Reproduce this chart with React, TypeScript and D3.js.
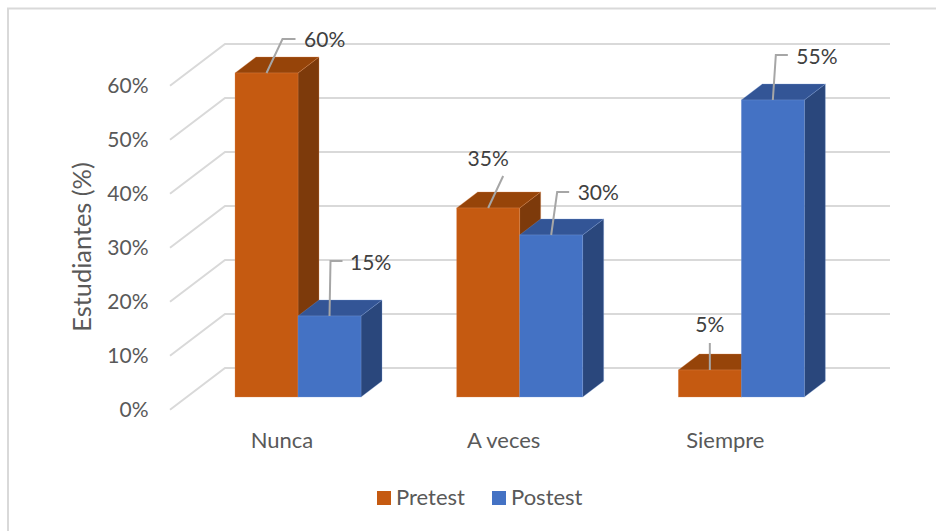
import React from "react";
import * as d3 from "d3";

const categories = ["Nunca", "A veces", "Siempre"];
const seriesNames = ["Pretest", "Postest"];
const pretest = [60, 35, 5];
const postest = [15, 30, 55];
const ticks = [0, 10, 20, 30, 40, 50, 60];

const front = { pretest: "#C55A11", postest: "#4472C4" };
const top = { pretest: "#964409", postest: "#335596" };
const side = { pretest: "#7D3A0B", postest: "#2A477C" };
const edge = { pretest: "#E08A50", postest: "#7C9DD8" };
const textColor = "#595959";
const labelColor = "#404040";
const FONT = "Lato, Carlito, sans-serif";

// leader-line vertex offsets, relative to the centre of the bar's front top edge
const leaders = [
  { s: 0, c: 0, pts: [[0, 0], [16, -34], [29, -34]], tx: 37.5, ty: -26 },
  { s: 1, c: 0, pts: [[0, 0], [1, -55], [13, -55]], tx: 20.5, ty: -46 },
  { s: 0, c: 1, pts: [[0, 0], [15, -32]], tx: 0, ty: -42 },
  { s: 1, c: 1, pts: [[0, 0], [6, -43], [18, -43]], tx: 26.5, ty: -35 },
  { s: 0, c: 2, pts: [[0, 0], [0, -27]], tx: 0, ty: -38 },
  { s: 1, c: 2, pts: [[0, 0], [3, -45], [15, -45]], tx: 23.5, ty: -36 },
];

export default function App() {
  const W = 936;
  const H = 531;
  const y = d3.scaleLinear().domain([0, 60]).range([397, 73]);
  const x0 = d3.scaleBand<string>().domain(categories).range([224.5, 889.5]);
  const slotStarts = categories.map((c) => (x0(c) as number) + 10.5);
  const barW = 63;
  const barDx = 21;
  const barDy = 16;
  const wallX0 = 170;
  const wallX1 = 225;
  const wallRight = 890;
  const wallDy = 41.7;
  const wallShift = 12.7;

  const series = [
    { key: "pretest" as const, values: pretest },
    { key: "postest" as const, values: postest },
  ];

  return (
    <svg
      width={W}
      height={H}
      style={{ position: "absolute", left: 0, top: 0, background: "#fff", fontFamily: FONT }}
    >
      <path d={`M8 ${H} V8.5 H${W}`} fill="none" stroke="#D9D9D9" strokeWidth={2} />

      {ticks.map((t) => {
        const yf = y(t) + wallShift;
        const yb = yf - wallDy;
        return (
          <g key={t}>
            <polyline
              points={`${wallX0},${yf} ${wallX1},${yb} ${wallRight},${yb}`}
              fill="none"
              stroke="#D9D9D9"
              strokeWidth={2}
            />
            <text x={148.5} y={yf + 7.5} textAnchor="end" fontSize={21} fill={textColor}>
              {t}%
            </text>
          </g>
        );
      })}

      {categories.map((c, ci) => (
        <g key={c}>
          {series.map((s, si) => {
            const x = slotStarts[ci] + si * barW;
            const yT = y(s.values[ci]);
            const yB = y(0);
            return (
              <g key={s.key}>
                <polygon
                  points={`${x + barW},${yT} ${x + barW + barDx},${yT - barDy} ${x + barW + barDx},${yB - barDy} ${x + barW},${yB}`}
                  fill={side[s.key]}
                  stroke={edge[s.key]}
                  strokeWidth={0.5}
                  strokeOpacity={0.6}
                />
                <polygon
                  points={`${x},${yT} ${x + barDx},${yT - barDy} ${x + barW + barDx},${yT - barDy} ${x + barW},${yT}`}
                  fill={top[s.key]}
                  stroke={edge[s.key]}
                  strokeWidth={0.5}
                  strokeOpacity={0.6}
                />
                <rect
                  x={x}
                  y={yT}
                  width={barW}
                  height={yB - yT}
                  fill={front[s.key]}
                  stroke={edge[s.key]}
                  strokeWidth={0.5}
                  strokeOpacity={0.6}
                />
              </g>
            );
          })}
        </g>
      ))}

      {leaders.map((l) => {
        const s = series[l.s];
        const cx = slotStarts[l.c] + l.s * barW + barW / 2;
        const cy = y(s.values[l.c]);
        const line = d3.line();
        const pts = l.pts.map(([a, b]) => [cx + a, cy + b] as [number, number]);
        return (
          <g key={`${l.s}-${l.c}`}>
            <path d={line(pts) as string} fill="none" stroke="#A6A6A6" strokeWidth={2} />
            <text
              x={cx + l.tx}
              y={cy + l.ty}
              textAnchor={l.tx === 0 ? "middle" : "start"}
              fontSize={21}
              fill={labelColor}
            >
              {s.values[l.c]}%
            </text>
          </g>
        );
      })}

      {categories.map((c, i) => (
        <text key={c} x={slotStarts[i] + 47} y={447.5} textAnchor="middle" fontSize={22} fill={textColor}>
          {c}
        </text>
      ))}

      <text
        transform="translate(91,247) rotate(-90)"
        textAnchor="middle"
        fontSize={25.4}
        fill={textColor}
      >
        Estudiantes (%)
      </text>

      {seriesNames.map((n, i) => {
        const lx = [377, 492][i];
        const col = i === 0 ? front.pretest : front.postest;
        return (
          <g key={n}>
            <rect x={lx} y={491} width={14} height={14} fill={col} />
            <text x={lx + 19} y={505} fontSize={22} fill={textColor}>
              {n}
            </text>
          </g>
        );
      })}
    </svg>
  );
}
